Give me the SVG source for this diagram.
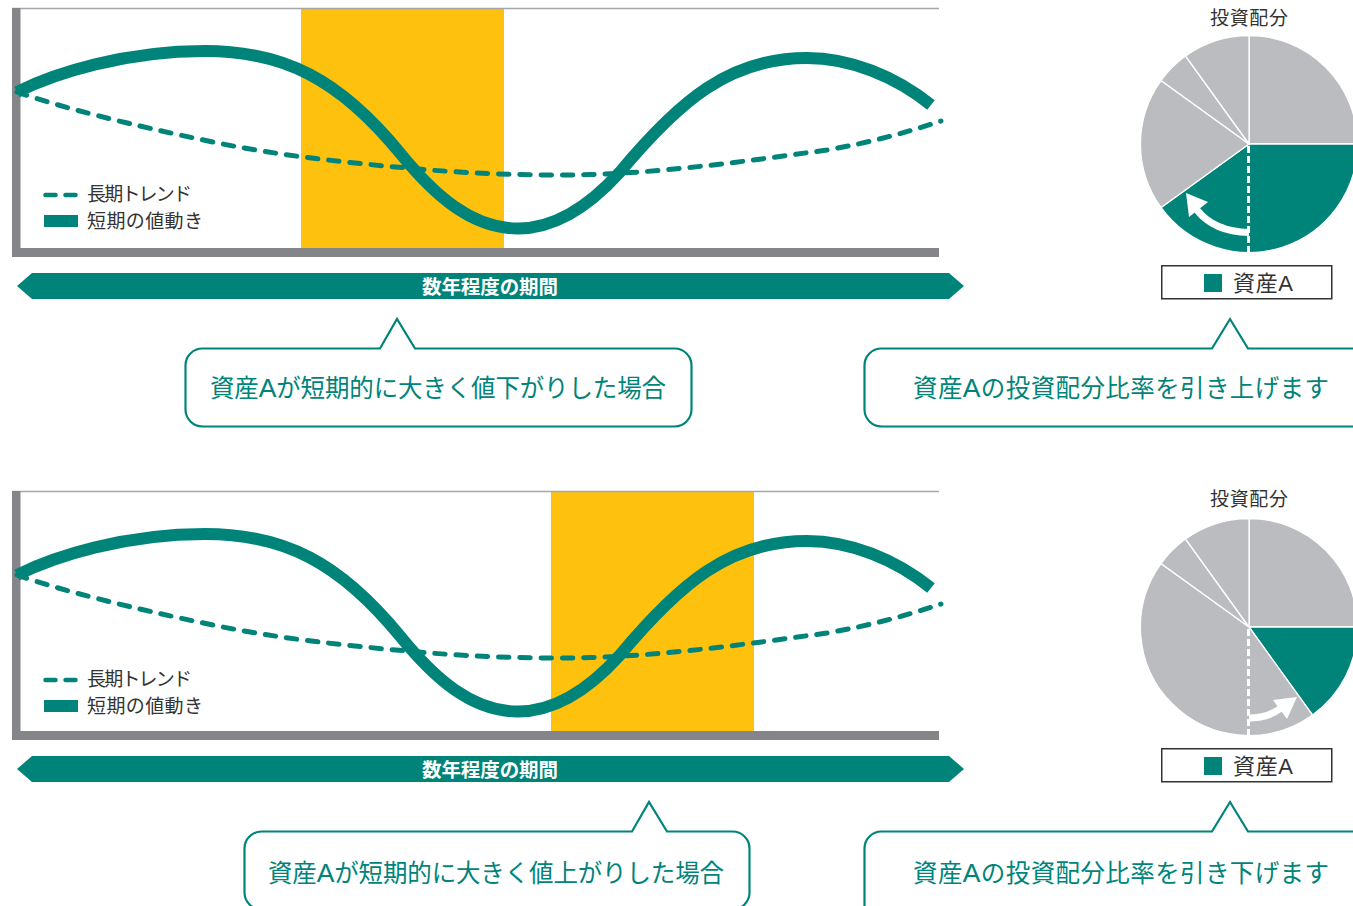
<svg xmlns="http://www.w3.org/2000/svg" xmlns:xlink="http://www.w3.org/1999/xlink" width="1353" height="906" viewBox="0 0 1353 906">
<style>
text{font-family:"Liberation Sans","Noto Sans CJK JP",sans-serif}
.lbl{font-size:19px;fill:#333}
.ban{font-size:19.500px;font-weight:700;fill:#fff}
.call{font-size:24.500px;fill:#00847a}
.big{font-size:26.500px}
.bub{fill:#fff;stroke:#00847a;stroke-width:2.2}
.frame{fill:#848588}
.top{stroke:#a5a6a9;stroke-width:1.5;fill:none}
.hi{fill:#fec10d}
.short{fill:none;stroke:#00847a;stroke-width:12}
.long{fill:none;stroke:#00847a;stroke-width:5;stroke-linecap:round;stroke-dasharray:10.500 10.800}
.key{fill:none;stroke:#00847a;stroke-width:4.500;stroke-linecap:round;stroke-dasharray:10 10}
.teal{fill:#00847a}
.gray{fill:#bbbcbf;stroke:#fff;stroke-width:1.3}
.tealw{fill:#00847a;stroke:#fff;stroke-width:1.3}
.dash{stroke:#fff;stroke-width:3;stroke-dasharray:7 3;fill:none}
.arc{fill:none;stroke:#fff;stroke-width:7}
.box{fill:#fff;stroke:#333;stroke-width:1.5}
</style>
<defs>
<path id="long-curve" d="M17 92C60 107 130 125 213 142C275 155 340 162 407 168C460 173 510 175 560 175C650 175 740 162 827 150C868 143 905 133 941 121"/>
<path id="short-curve" d="M17 92C55 73 125 51 205 51C285 51 340 80 400 153C435 196 472 228.500 518 228.500C557 228.500 592 203 620 172C680 100 730 58 807 58C850 58 895 76 931 105"/>
</defs>
<rect width="1353" height="906" fill="#fff"/>
<g id="chart-1">
<rect class="hi" x="301" y="9" width="203" height="240"/>
<path class="top" d="M12 8.500H939"/>
<rect class="frame" x="12" y="8" width="8.500" height="249"/>
<rect class="frame" x="12" y="248" width="927" height="9"/>
</g>
<g id="chart-2">
<rect class="hi" x="551" y="492" width="203" height="240"/>
<path class="top" d="M12 491.500H939"/>
<rect class="frame" x="12" y="491" width="8.500" height="249"/>
<rect class="frame" x="12" y="731" width="927" height="9"/>
</g>
<g id="connectors">
<use xlink:href="#long-curve" href="#long-curve" class="long"/>
<use xlink:href="#short-curve" href="#short-curve" class="short"/>
<use xlink:href="#long-curve" href="#long-curve" class="long" transform="translate(0 483)"/>
<use xlink:href="#short-curve" href="#short-curve" class="short" transform="translate(0 483)"/>
</g>
<g id="legend-1">
<path class="key" d="M45.500 195H75.500"/>
<text class="lbl" x="87" y="201" textLength="105">長期トレンド</text>
<rect class="teal" x="44" y="215" width="34" height="12"/>
<text class="lbl" x="87" y="228" textLength="116">短期の値動き</text>
</g>
<g id="legend-2">
<path class="key" d="M45.500 680H75.500"/>
<text class="lbl" x="87" y="686" textLength="105">長期トレンド</text>
<rect class="teal" x="44" y="700" width="34" height="12"/>
<text class="lbl" x="87" y="713" textLength="116">短期の値動き</text>
</g>
<g id="period-1">
<path class="teal" d="M17 286L32 273H949L964 286L949 299H32Z"/>
<text class="ban" x="422" y="294" textLength="136">数年程度の期間</text>
</g>
<g id="period-2">
<path class="teal" d="M17 769L32 756H949L964 769L949 782H32Z"/>
<text class="ban" x="422" y="777" textLength="136">数年程度の期間</text>
</g>
<g id="callout-1">
<path class="bub" d="M203 348.500H380L397 319L415 348.500H674A17 17 0 0 1 691.500 366V409A17 17 0 0 1 674 426.500H203A17 17 0 0 1 185.500 409V366A17 17 0 0 1 203 348.500Z"/>
<text class="call" x="210" y="397" textLength="456">資産<tspan class="big">A</tspan>が短期的に大きく値下がりした場合</text>
</g>
<g id="callout-2">
<path class="bub" d="M882 348.500H1212L1230 319L1248 348.500H1370V426.500H882A17 17 0 0 1 864.500 409V366A17 17 0 0 1 882 348.500Z"/>
<text class="call" x="913" y="397" textLength="416">資産<tspan class="big">A</tspan>の投資配分比率を引き上げます</text>
</g>
<g id="callout-3">
<path class="bub" d="M262 831.500H632L649 802L667 831.500H732A17 17 0 0 1 749.500 849V892A17 17 0 0 1 732 909.500H262A17 17 0 0 1 244.500 892V849A17 17 0 0 1 262 831.500Z"/>
<text class="call" x="268" y="882" textLength="456">資産<tspan class="big">A</tspan>が短期的に大きく値上がりした場合</text>
</g>
<g id="callout-4">
<path class="bub" d="M882 831.500H1212L1230 802L1248 831.500H1370V925H882A17 17 0 0 1 864.500 908V849A17 17 0 0 1 882 831.500Z"/>
<text class="call" x="913" y="882" textLength="416">資産<tspan class="big">A</tspan>の投資配分比率を引き下げます</text>
</g>
<g id="pie-1">
<text class="lbl" x="1210" y="25" textLength="78">投資配分</text>
<path class="gray" d="M1249 144V35.500A108.500 108.500 0 0 1 1357.500 144Z"/>
<path class="tealw" d="M1249 144H1357.500A108.500 108.500 0 0 1 1161 207.500Z"/>
<path class="gray" d="M1249 144L1161 207.500A108.500 108.500 0 0 1 1161 80.500Z"/>
<path class="gray" d="M1249 144L1161 80.500A108.500 108.500 0 0 1 1185.500 56Z"/>
<path class="gray" d="M1249 144L1185.500 56A108.500 108.500 0 0 1 1249 35.500Z"/>
<path class="dash" d="M1248.500 146V252"/>
<path class="arc" d="M1249 232.500C1226 232 1208 224 1197 210"/>
<path d="M1186 193L1208 202L1189 217Z" fill="#fff"/>
<rect class="box" x="1161.750" y="265.750" width="170" height="33"/>
<rect class="teal" x="1204" y="274" width="18" height="18"/>
<text x="1233" y="291" font-size="22" fill="#333" textLength="60">資産A</text>
</g>
<g id="pie-2">
<text class="lbl" x="1210" y="506" textLength="78">投資配分</text>
<path class="gray" d="M1249 627V518.500A108.500 108.500 0 0 1 1357.500 627Z"/>
<path class="tealw" d="M1249 627H1357.500A108.500 108.500 0 0 1 1312.500 715Z"/>
<path class="gray" d="M1249 627L1312.500 715A108.500 108.500 0 0 1 1161 563.500Z"/>
<path class="gray" d="M1249 627L1161 563.500A108.500 108.500 0 0 1 1185.500 539Z"/>
<path class="gray" d="M1249 627L1185.500 539A108.500 108.500 0 0 1 1249 518.500Z"/>
<path class="dash" d="M1248.500 629V735"/>
<path class="arc" d="M1249 718C1262 718 1273 714 1281 708"/>
<path d="M1297 697L1273 700L1287 719Z" fill="#fff"/>
<rect class="box" x="1161.750" y="748.750" width="170" height="33"/>
<rect class="teal" x="1204" y="757" width="18" height="18"/>
<text x="1233" y="774" font-size="22" fill="#333" textLength="60">資産A</text>
</g>
</svg>
